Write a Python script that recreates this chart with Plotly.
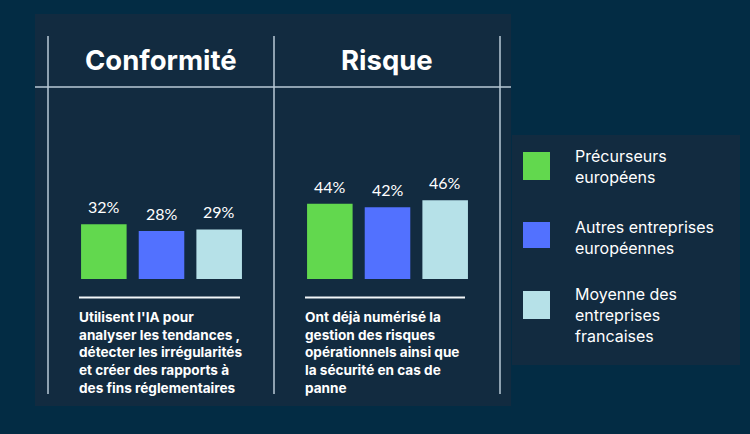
import plotly.graph_objects as go

# Data
series = ["Précurseurs<br>européens", "Autres entreprises<br>européennes", "Moyenne des<br>entreprises<br>francaises"]
conformite = [32, 28, 29]
risque = [44, 42, 46]
colors = ["#62D84E", "#5271FF", "#B6E1E8"]
panel_titles = ["Conformité", "Risque"]
notes = [
    "Utilisent l'IA pour<br>analyser les tendances ,<br>détecter les irrégularités<br>et créer des rapports à<br>des fins réglementaires",
    "Ont déjà numérisé la<br>gestion des risques<br>opérationnels ainsi que<br>la sécurité en cas de<br>panne",
]

W, H = 750, 434
FONT = "Inter"
LABEL_FONT = "Lato"
LINE = "#B9CAD6"


def px(x):
    return x / W


def py(y):
    return 1 - y / H


fig = go.Figure()

# Bars, one trace per panel
fig.add_trace(go.Bar(x=series, y=conformite, xaxis="x", yaxis="y"))
fig.add_trace(go.Bar(x=series, y=risque, xaxis="x2", yaxis="y2"))
fig.update_traces(
    marker=dict(color=colors, line=dict(width=0)),
    width=0.79,
    cliponaxis=False,
    showlegend=False,
)

shapes = []
annotations = []


def rect(x0, y0, x1, y1, color):
    shapes.append(dict(type="rect", xref="paper", yref="paper", x0=px(x0), x1=px(x1),
                       y0=py(y0), y1=py(y1), fillcolor=color, line=dict(width=0), layer="below"))


def line(x0, y0, x1, y1, color, width):
    shapes.append(dict(type="line", xref="paper", yref="paper", x0=px(x0), x1=px(x1),
                       y0=py(y0), y1=py(y1), line=dict(color=color, width=width), layer="below"))


def text(x, y, label, size, bold=False, anchor="left"):
    if bold:
        label = f"<b>{label}</b>"
    annotations.append(dict(xref="paper", yref="paper", x=px(x), y=py(y), text=label,
                            showarrow=False, align=anchor, xanchor=anchor, yanchor="middle",
                            borderpad=0, borderwidth=0,
                            font=dict(family=FONT, size=size, color="#FFFFFF")))


# Panels
rect(35, 14, 511, 406, "#122B40")
rect(512, 135, 740, 365, "#122B40")

# Grid lines
for x in [48, 274, 500]:
    line(x, 36, x, 394, LINE, 1.5)
line(35, 87, 511, 87, LINE, 1.5)

# Panel text
text(161, 60, panel_titles[0], 27.5, bold=True, anchor="center")
text(387, 60, panel_titles[1], 27.5, bold=True, anchor="center")
line(79, 297.5, 240, 297.5, "#F2F6F8", 2)
line(305, 297.5, 465, 297.5, "#F2F6F8", 2)
text(79, 352.5, notes[0], 13.6, bold=True)
text(305, 352.5, notes[1], 13.6, bold=True)

# Legend
for (y0, y1, yc), color, name in zip([(152, 180, 167), (222, 248, 238), (291, 319, 315)], colors, series):
    rect(523, y0, 550, y1, color)
    text(575, yc, name, 16)

# Value labels sit further above the bars than textposition="outside" allows
for xa, ya, values in [("x", "y", conformite), ("x2", "y2", risque)]:
    for name, v in zip(series, values):
        annotations.append(dict(xref=xa, yref=ya, x=name, y=v, text=f"{v}%", showarrow=False,
                                yanchor="bottom", yshift=6,
                                font=dict(family=LABEL_FONT, size=16, color="#FFFFFF")))

fig.update_layout(
    width=W,
    height=H,
    margin=dict(l=0, r=0, t=0, b=0),
    paper_bgcolor="#032C44",
    plot_bgcolor="rgba(0,0,0,0)",
    shapes=shapes,
    annotations=annotations,
    xaxis=dict(domain=[px(75), px(248)], visible=False),
    xaxis2=dict(domain=[px(301), px(474)], visible=False),
    yaxis=dict(domain=[py(279), py(108)], range=[0, 100], visible=False),
    yaxis2=dict(domain=[py(279), py(108)], range=[0, 100], visible=False, anchor="x2"),
)

# Drop the default page margin so the figure fills the window
fig.write_html("out.html", config={"displayModeBar": False},
               post_script="document.body.style.margin='0';")
